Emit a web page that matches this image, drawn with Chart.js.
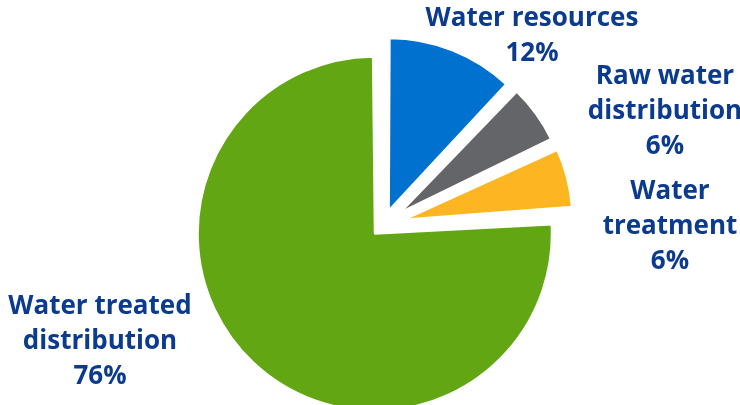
<!DOCTYPE html>
<html>
<head>
<meta charset="utf-8">
<script src="https://cdn.jsdelivr.net/npm/chart.js@4/dist/chart.umd.min.js"></script>
<style>
  html, body { margin: 0; padding: 0; background: #fff; }
  #wrap { width: 740px; height: 405px; position: relative; }
</style>
</head>
<body>
<div id="wrap"><canvas id="pie"></canvas></div>
<script>
// ── Data ─────────────────────────────────────────────
var categories = ['Water resources', 'Raw water distribution', 'Water treatment', 'Water treated distribution'];
var shares     = [12, 6, 6, 76];
var labelLines = [['Water resources'], ['Raw water', 'distribution'], ['Water', 'treatment'], ['Water treated', 'distribution']];

// ── Styles ───────────────────────────────────────────
var sliceColors  = ['#0071CE', '#646569', '#FDB622', '#62A713'];
var sliceOffsets = [64, 88, 88, 48];   // Chart.js v4 draws offset/4 px
var radiusTrim   = [5, 10, 9, 0];
var textColor    = '#0B3B8F';
var labelAnchor  = [[532, 19], [665, 77], [670, 192], [100, 307]];
var lineH        = 35;

// Chart.js grows the outer radius of exploded arcs, undo that
var shrinkExploded = {
  id: 'shrinkExploded',
  afterDatasetUpdate: function(chart, args) {
    var meta = chart.getDatasetMeta(args.index);
    meta.data.forEach(function(arc, i) {
      var off = (sliceOffsets[i] || 0) / 4;
      var fix = 1 - Math.sin(Math.min(Math.PI, arc.circumference));
      arc.outerRadius = arc.outerRadius - off * fix - (radiusTrim[i] || 0);
    });
  }
};

// labels outside the pie
var sliceLabels = {
  id: 'sliceLabels',
  afterDraw: function(chart) {
    var ctx = chart.ctx;
    ctx.save();
    ctx.fillStyle = textColor;
    ctx.font = 'bold 26px "Open Sans"';
    ctx.textAlign = 'center';
    ctx.textBaseline = 'middle';
    var vals = chart.data.datasets[0].data;
    labelLines.forEach(function(lines, i) {
      var a = labelAnchor[i];
      var all = lines.concat([vals[i] + '%']);
      all.forEach(function(t, k) { ctx.fillText(t, a[0], a[1] + k * lineH); });
    });
    ctx.restore();
  }
};

new Chart(document.getElementById('pie'), {
  type: 'pie',
  data: {
    labels: categories,
    datasets: [{
      data: shares,
      backgroundColor: sliceColors,
      borderColor: '#ffffff',
      borderWidth: 2,
      offset: sliceOffsets
    }]
  },
  options: {
    responsive: true,
    maintainAspectRatio: false,
    animation: false,
    radius: 177,
    layout: { padding: { left: 26, right: 0, top: 45, bottom: 0 } },
    plugins: { legend: { display: false }, tooltip: { enabled: false } }
  },
  plugins: [shrinkExploded, sliceLabels]
});
</script>
</body>
</html>
